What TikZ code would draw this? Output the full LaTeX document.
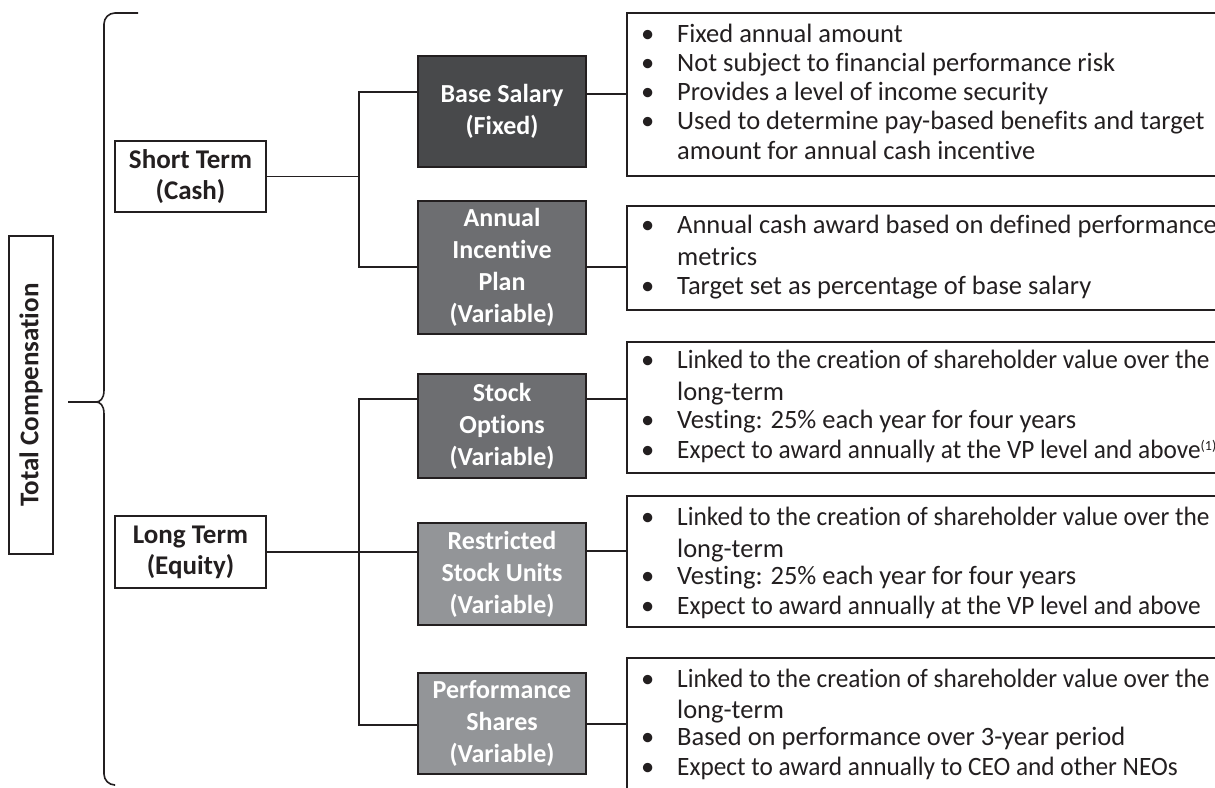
\documentclass[tikz,border=0pt]{standalone}
\usepackage{graphicx}
\usepackage{fontspec}
\setmainfont{Carlito}[Ligatures={NoCommon}]
\definecolor{dk}{HTML}{231F20}
\definecolor{g1}{HTML}{48494B}
\definecolor{g2}{HTML}{6D6E71}
\definecolor{g3}{HTML}{939598}
\newcommand\bitem[3]{\node[bul] (#1b) at (641,#2) {\textbullet}; \node[bul] (#1) at (677,#2) {#3};}
\newcommand\wline[3]{\node[bul] (#1) at (677,#2) {#3};}
\newcommand\sq[1]{\scalebox{0.955}[1]{#1}}
\begin{document}
\begin{tikzpicture}[x=1pt,y=-1pt,
  con/.style={draw=dk,line width=1.6pt},
  cat/.style={draw=dk,line width=1.6pt,fill=white,text=dk,font=\fontsize{27}{31}\selectfont\bfseries,align=center,inner sep=0pt},
  comp/.style={draw=dk,line width=1.6pt,text=white,font=\fontsize{26}{32}\selectfont\bfseries,align=center,inner sep=0pt,minimum width=168},
  desc/.style={draw=dk,line width=1.6pt,inner sep=0pt,minimum width=700},
  bul/.style={anchor=base west,font=\fontsize{26.5}{30}\selectfont,inner sep=0pt,text=dk}]
\useasboundingbox (0,0) rectangle (1215,787);
\clip (0,0) rectangle (1215,787);
\fill[white] (0,0) rectangle (1215,787);
% total compensation
\node[rotate=90,draw=dk,line width=1.6pt,minimum width=318,minimum height=44,inner sep=0pt,text=dk,font=\fontsize{27}{30}\selectfont\bfseries] (tc) at (31,395) {Total Compensation};
% brace
\coordinate (tip) at (96,402);
\draw[con,rounded corners=11] (138,13) -- (104,13) -- (104,391);
\draw[con] (104,390) .. controls (104,399) and (100,402) .. (tip) .. controls (100,402) and (104,405) .. (104,414);
\draw[con,rounded corners=11] (104,413) -- (104,785) -- (114,785);
\draw[con] (tip) -- ++(-28,0);
% categories
\node[cat,minimum width=151,minimum height=71] (st) at (190.5,176.5) {Short Term\\(Cash)};
\node[cat,minimum width=151,minimum height=72] (lt) at (190.5,552) {Long Term\\(Equity)};
% components
\node[comp,fill=g1,minimum height=111] (bs) at (502,111.5) {Base Salary\\(Fixed)};
\node[comp,fill=g2,minimum height=133] (aip) at (502,267.5) {Annual\\Incentive\\Plan\\(Variable)};
\node[comp,fill=g2,minimum height=104] (so) at (502,426) {Stock\\Options\\(Variable)};
\node[comp,fill=g3,minimum height=102] (rsu) at (502,574) {Restricted\\Stock Units\\(Variable)};
\node[comp,fill=g3,minimum height=101] (ps) at (502,723.5) {Performance\\Shares\\(Variable)};
% description boxes
\node[desc,minimum height=163] (d1) at (977,94.5) {};
\node[desc,minimum height=104] (d2) at (977,258) {};
\node[desc,minimum height=131] (d3) at (977,407.5) {};
\node[desc,minimum height=131] (d4) at (977,561.5) {};
\node[desc,minimum height=150] (d5) at (977,733) {};
% bus connectors
\coordinate (b1) at (359,92);
\coordinate (b2) at (359,267);
\coordinate (b3) at (359,399);
\coordinate (b4) at (359,725);
\draw[con] (st.east) -- (st.east -| b1);
\draw[con] (bs.west |- b1) -- (b1) -- (b2) -- (aip.west |- b2);
\draw[con] (lt.east) -- (rsu.west |- lt.east);
\draw[con] (so.west |- b3) -- (b3) -- (b4) -- (ps.west |- b4);
% right connectors
\draw[con] (bs.east |- 0,94) -- (d1.west |- 0,94);
\draw[con] (aip.east |- 0,267) -- (d2.west |- 0,267);
\draw[con] (so.east |- 0,399) -- (d3.west |- 0,399);
\draw[con] (rsu.east |- 0,551) -- (d4.west |- 0,551);
\draw[con] (ps.east |- 0,724) -- (d5.west |- 0,724);
% texts
\bitem{t11}{42}{Fixed annual amount}
\bitem{t12}{71}{Not subject to financial performance risk}
\bitem{t13}{100}{Provides a level of income security}
\bitem{t14}{129}{Used to determine pay-based benefits and target}
\wline{t15}{159}{amount for annual cash incentive}
\bitem{t21}{233}{Annual cash award based on defined performance}
\wline{t22}{265}{metrics}
\bitem{t23}{294}{Target set as percentage of base salary}
\bitem{t31}{368}{\sq{Linked to the creation of shareholder value over the}}
\wline{t32}{400}{long-term}
\bitem{t33}{428}{Vesting: 25\% each year for four years}
\bitem{t34}{458}{\sq{Expect to award annually at the VP level and above}\raisebox{8pt}{\fontsize{14}{14}\selectfont(1)}}
\bitem{t41}{525}{\sq{Linked to the creation of shareholder value over the}}
\wline{t42}{557}{long-term}
\bitem{t43}{584}{Vesting: 25\% each year for four years}
\bitem{t44}{614}{\sq{Expect to award annually at the VP level and above}}
\bitem{t51}{687}{\sq{Linked to the creation of shareholder value over the}}
\wline{t52}{718}{long-term}
\bitem{t53}{745}{Based on performance over 3-year period}
\bitem{t54}{775}{\sq{Expect to award annually to CEO and other NEOs}}
\end{tikzpicture}
\end{document}
